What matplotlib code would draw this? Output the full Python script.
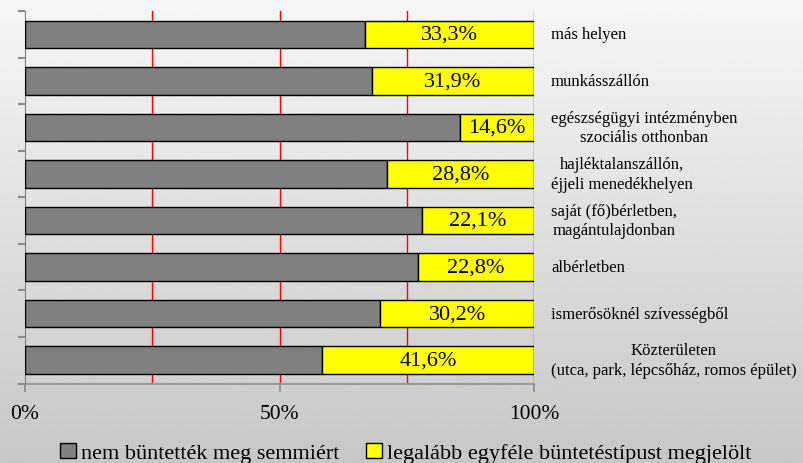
import numpy as np
import matplotlib
matplotlib.use("Agg")
import matplotlib.pyplot as plt
from matplotlib.patches import Patch

plt.rcParams['font.family'] = ['Liberation Serif', 'DejaVu Serif']

categories = [
    "más helyen",
    "munkásszállón",
    "egészségügyi intézményben\nszociális otthonban",
    "hajléktalanszállón,\néjjeli menedékhelyen",
    "saját (fő)bérletben,\nmagántulajdonban",
    "albérletben",
    "ismerősöknél szívességből",
    "Közterületen\n(utca, park, lépcsőház, romos épület)",
]
punished = [33.3, 31.9, 14.6, 28.8, 22.1, 22.8, 30.2, 41.6]
not_punished = [round(100 - v, 1) for v in punished]
value_labels = ["33,3%", "31,9%", "14,6%", "28,8%", "22,1%", "22,8%", "30,2%", "41,6%"]
series_names = ["nem büntették meg semmiért", "legalább egyféle büntetéstípust megjelölt"]
xticks = [0, 50, 100]
xtick_labels = ["0%", "50%", "100%"]

W, H = 804, 464
fig = plt.figure(figsize=(W / 100, H / 100), dpi=100)

# background gradient
bg = fig.add_axes([0, 0, 1, 1], zorder=-10)
grad = np.linspace(0.965, 0.78, 256).reshape(-1, 1)
bg.imshow(grad, aspect='auto', cmap='gray', vmin=0, vmax=1, extent=[0, 1, 0, 1])
bg.axis('off')

left_px, right_px, top_px, bot_px = 25, 534, 12, 384.5
ax = fig.add_axes([left_px / W, 1 - bot_px / H, (right_px - left_px) / W, (bot_px - top_px) / H])
ax.set_facecolor('none')

y = np.arange(len(categories))
bh = 0.59
ax.barh(y, not_punished, height=bh, color='#808080', edgecolor='black', linewidth=1.0, zorder=3,
        label=series_names[0])
ax.barh(y, punished, left=not_punished, height=bh, color='#ffff00', edgecolor='black', linewidth=1.0,
        zorder=3, label=series_names[1])

for i, (np_, p, lab) in enumerate(zip(not_punished, punished, value_labels)):
    ax.text(np_ + p / 2, i, lab, ha='center', va='center', fontsize=16, zorder=4)

label_x = (551 - left_px) / (right_px - left_px) * 100
for i, cat in enumerate(categories):
    ax.text(label_x, i, cat, ha='left', va='center', multialignment='center',
            fontsize=12, clip_on=False, linespacing=1.3)

ax.set_xlim(0, 100)
ax.set_ylim(len(categories) - 0.5, -0.5)

for gx in [25, 50, 75, 100]:
    ax.axvline(gx, color='#ff0000', linewidth=1.0, zorder=1)

for s in ['top', 'right']:
    ax.spines[s].set_visible(False)
ax.spines['left'].set_color('#7f7f7f')
ax.spines['bottom'].set_color('#9a9a9a')
ax.spines['bottom'].set_linewidth(1.5)
ax.spines['bottom'].set_zorder(2)

ax.set_yticks([])
ax.set_yticks(np.arange(-0.5, len(categories) + 0.5, 1), minor=True)
ax.tick_params(axis='y', which='minor', length=5, color='#8a8a8a', width=1.5, direction='out')

ax.set_xticks(xticks)
ax.set_xticklabels(xtick_labels, fontsize=15.5)
ax.tick_params(axis='x', length=6, color='#8a8a8a', width=1.2, pad=9)

handles = [Patch(facecolor='#808080', edgecolor='black', linewidth=1.0),
           Patch(facecolor='#ffff00', edgecolor='black', linewidth=1.0)]
fig.legend(handles, series_names, loc='center', bbox_to_anchor=(0.505, 1 - 454 / H), ncol=2,
           frameon=False, fontsize=16, handlelength=0.7, handleheight=0.7, handletextpad=0.25,
           columnspacing=1.2, borderaxespad=0)

fig.savefig("out.png", dpi=100)
